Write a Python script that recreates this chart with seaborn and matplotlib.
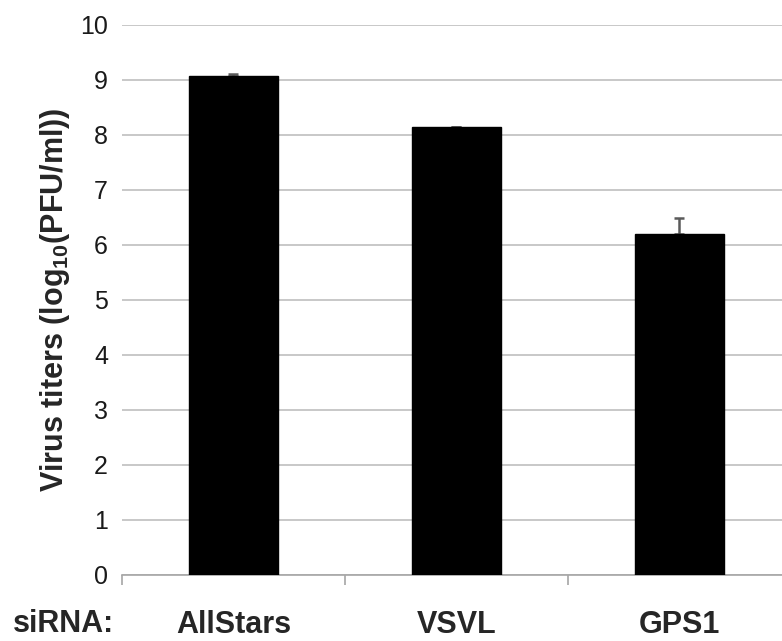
import pandas as pd
import matplotlib
matplotlib.use("Agg")
import matplotlib.pyplot as plt
import seaborn as sns

# Values
sirna = ["AllStars", "VSVL", "GPS1"]
titers = [9.07, 8.14, 6.20]
err_up = [0.04, 0.01, 0.29]

df = pd.DataFrame({"siRNA": sirna, "titer": titers})

sns.set_style("white")
plt.rcParams["font.family"] = ["Liberation Sans", "DejaVu Sans"]
plt.rcParams["mathtext.fontset"] = "custom"
plt.rcParams["mathtext.rm"] = "Liberation Sans"
plt.rcParams["mathtext.bf"] = "Liberation Sans:bold"

fig = plt.figure(figsize=(7.82, 6.41), dpi=100)
ax = fig.add_axes([0.156, 0.103, 0.855, 0.858])

sns.barplot(data=df, x="siRNA", y="titer", color="black", width=0.40,
            saturation=1, errorbar=None, ax=ax, zorder=3)
for p in ax.patches:
    p.set_edgecolor("black")

ax.errorbar(range(len(sirna)), titers, yerr=[[0] * len(sirna), err_up],
            fmt="none", ecolor="#5a5a5a", elinewidth=1.8, capsize=3.6,
            capthick=1.8, zorder=2)

ax.set_xlim(-0.5, 2.5)
ax.set_ylim(0, 10)
ax.set_yticks(range(0, 11))
ax.tick_params(axis="y", length=0, labelsize=18, pad=10, labelcolor="#1a1a1a")
ax.yaxis.grid(True, color="#bfbfbf", linewidth=1.2, zorder=0)
ax.set_axisbelow(True)

# category separators as ticks, labels in between
ax.set_xticks([-0.5, 0.5, 1.5], minor=False)
ax.set_xticklabels([])
ax.set_xticks([0, 1, 2], minor=True)
ax.set_xticklabels(sirna, minor=True, fontsize=22, fontweight="bold")
ax.tick_params(axis="x", which="major", bottom=True, length=7, color="#a6a6a6",
               width=1.2, direction="out")
ax.tick_params(axis="x", which="minor", bottom=True, length=0, pad=25)

for s in ["top", "right", "left"]:
    ax.spines[s].set_visible(False)
ax.spines["bottom"].set_color("#a6a6a6")
ax.spines["bottom"].set_linewidth(1.2)

ax.set_xlabel("")
ax.set_ylabel("Virus titers (log$_{\\mathbf{10}}$(PFU/ml))", fontsize=22,
              fontweight="bold")
ax.yaxis.set_label_coords(-0.075, 0.5)
fig.text(0.016, 0.027, "siRNA:", fontsize=22, fontweight="bold", ha="left", va="center")

fig.savefig("out.png", dpi=100)
